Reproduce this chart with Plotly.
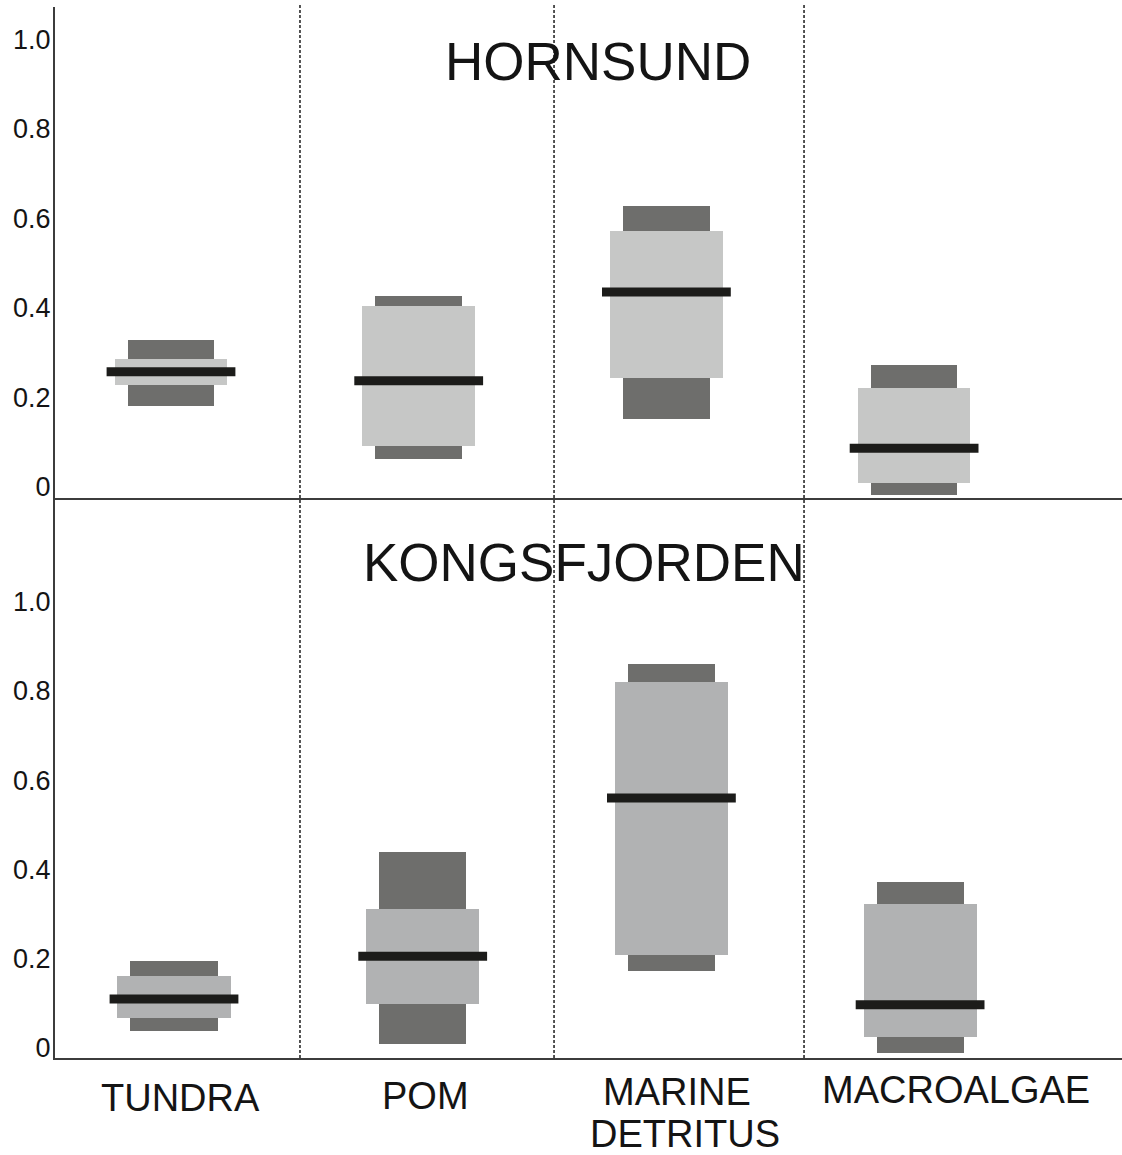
import plotly.graph_objects as go
from plotly.subplots import make_subplots

# ---------------- data ----------------
categories = ["TUNDRA", "POM", "MARINE<br>DETRITUS", "MACROALGAE"]
sites = ["HORNSUND", "KONGSFJORDEN"]

hornsund_outer_low = [0.206, 0.087, 0.177, 0.006]
hornsund_outer_high = [0.352, 0.452, 0.653, 0.297]
hornsund_inner_low = [0.253, 0.117, 0.268, 0.033]
hornsund_inner_high = [0.311, 0.428, 0.597, 0.246]
hornsund_mode = [0.282, 0.262, 0.460, 0.111]

kongs_outer_low = [0.061, 0.031, 0.195, 0.011]
kongs_outer_high = [0.218, 0.461, 0.882, 0.395]
kongs_inner_low = [0.090, 0.121, 0.231, 0.046]
kongs_inner_high = [0.184, 0.334, 0.842, 0.345]
kongs_mode = [0.132, 0.228, 0.582, 0.119]

y_tick_vals = [0, 0.2, 0.4, 0.6, 0.8, 1.0]
y_tick_text = ["0", "0.2", "0.4", "0.6", "0.8", "1.0"]

# ---------------- styling ----------------
DARK = "#6e6e6c"
LIGHT_TOP = "#c6c7c6"
LIGHT_BOT = "#b1b2b3"
MEDIAN = "#1c1c1a"
AXIS = "#3c3c3c"
TEXT = "#141414"
FONT = "Liberation Sans, Arial, sans-serif"

xpos = list(range(len(categories)))

fig = make_subplots(rows=2, cols=1, vertical_spacing=0, row_heights=[491, 560])

panels = [
    (1, hornsund_outer_low, hornsund_outer_high, hornsund_inner_low, hornsund_inner_high, hornsund_mode, LIGHT_TOP),
    (2, kongs_outer_low, kongs_outer_high, kongs_inner_low, kongs_inner_high, kongs_mode, LIGHT_BOT),
]

for row, olo, ohi, ilo, ihi, md, light in panels:
    fig.add_trace(go.Bar(
        x=xpos, y=[h - l for l, h in zip(olo, ohi)], base=olo, width=0.35,
        marker=dict(color=DARK, line=dict(width=0)), hoverinfo="skip"),
        row=row, col=1)
    fig.add_trace(go.Bar(
        x=xpos, y=[h - l for l, h in zip(ilo, ihi)], base=ilo, width=0.455,
        marker=dict(color=light, line=dict(width=0)), hoverinfo="skip"),
        row=row, col=1)
    fig.add_trace(go.Scatter(
        x=xpos, y=md, mode="markers",
        marker=dict(symbol="line-ew", size=92, color=MEDIAN,
                    line=dict(width=9, color=MEDIAN)),
        hoverinfo="skip"),
        row=row, col=1)

fig.update_layout(
    width=1122, height=1155,
    margin=dict(l=55, r=0, t=7, b=97),
    plot_bgcolor="white", paper_bgcolor="white",
    showlegend=False, barmode="overlay", bargap=0,
    font=dict(family=FONT, color=TEXT),
)

common_x = dict(showgrid=False, zeroline=False, showticklabels=False, ticks="",
                showline=True, linecolor=AXIS, linewidth=2, mirror=False)
fig.update_xaxes(range=[-0.4683, 3.8393], **common_x, row=1, col=1)
fig.update_xaxes(range=[-0.4785, 3.8118], **common_x, row=2, col=1)

common_y = dict(showgrid=False, zeroline=False, ticks="", showline=True,
                linecolor=AXIS, linewidth=2, tickvals=y_tick_vals, ticktext=y_tick_text,
                ticklabelstandoff=-3,
                tickfont=dict(size=27, family=FONT, color=TEXT))
fig.update_yaxes(range=[0, 1.097], ticklabelshift=-11, **common_y, row=1, col=1)
fig.update_yaxes(range=[0, 1.254], ticklabelshift=-10, **common_y, row=2, col=1)

# dotted separators between categories
for xp in [0.2296, 0.4677, 0.702]:
    fig.add_shape(type="line", xref="paper", yref="paper", x0=xp, x1=xp, y0=0, y1=1.002,
                  line=dict(color="#2a2a2a", width=1.6, dash="3px,2px"))

# site titles
fig.add_annotation(text=sites[0], xref="paper", yref="paper", x=0.5089, y=0.9477,
                   showarrow=False, font=dict(size=53, family=FONT, color=TEXT),
                   xanchor="center", yanchor="middle")
fig.add_annotation(text=sites[1], xref="paper", yref="paper", x=0.4958, y=0.4719,
                   showarrow=False, font=dict(size=53, family=FONT, color=TEXT),
                   xanchor="center", yanchor="middle")

# category labels (multi-line labels are set line by line)
label_xshift = [6, 3, 6, 36]
label_yshift = [-40, -38, -34, -32]
line_step = 42
for i, cat in enumerate(categories):
    for j, part in enumerate(cat.split("<br>")):
        fig.add_annotation(text=part, xref="x2", yref="paper", x=xpos[i], y=0,
                           xshift=label_xshift[i] + (8 * j), yshift=label_yshift[i] - line_step * j,
                           showarrow=False, xanchor="center", yanchor="middle",
                           borderpad=0,
                           font=dict(size=38, family=FONT, color=TEXT))

fig.write_html("out.html")
